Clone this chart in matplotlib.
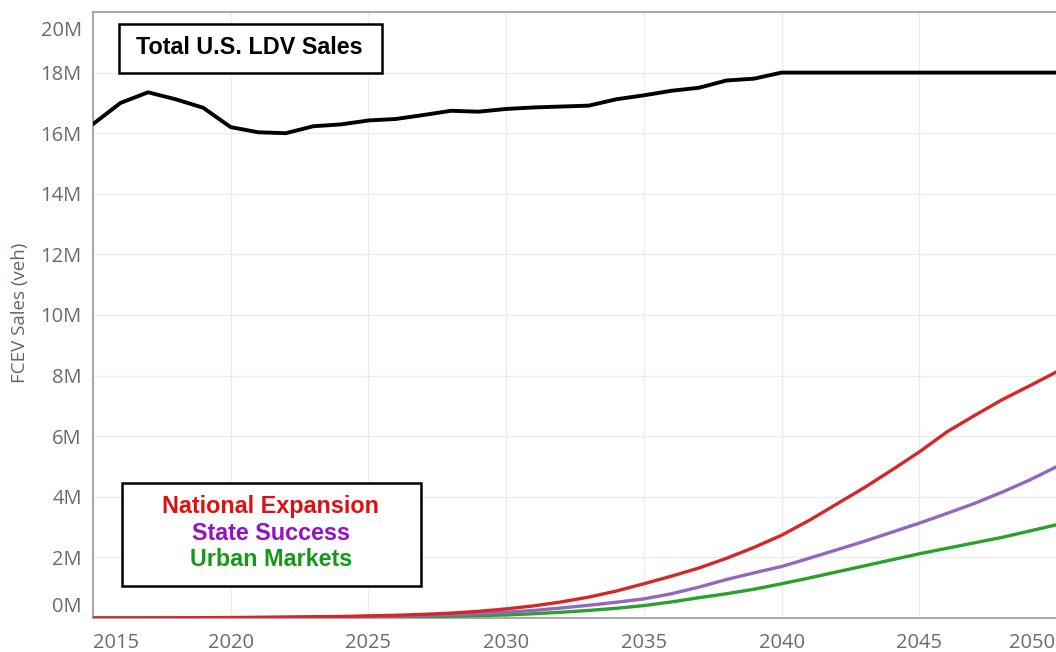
import matplotlib
matplotlib.use("Agg")
import matplotlib.pyplot as plt
from matplotlib.patches import Rectangle
from matplotlib.transforms import ScaledTranslation

years = list(range(2015, 2051))

total_ldv = [16.3, 17.0, 17.35, 17.12, 16.84, 16.2, 16.03, 16.0, 16.23, 16.29,
             16.42, 16.47, 16.6, 16.74, 16.71, 16.8, 16.85, 16.88, 16.91, 17.12,
             17.25, 17.4, 17.5, 17.74, 17.8, 18.0, 18.0, 18.0, 18.0, 18.0,
             18.0, 18.0, 18.0, 18.0, 18.0, 18.0]

national_expansion = [0.0, 0.0, 0.0, 0.005, 0.01, 0.015, 0.02, 0.03, 0.04, 0.05,
                      0.07, 0.09, 0.12, 0.16, 0.22, 0.30, 0.40, 0.53, 0.69, 0.89,
                      1.13, 1.38, 1.65, 1.97, 2.33, 2.73, 3.22, 3.76, 4.3, 4.88,
                      5.48, 6.14, 6.68, 7.2, 7.66, 8.13]

state_success = [0.0, 0.0, 0.0, 0.004, 0.008, 0.012, 0.016, 0.02, 0.03, 0.04,
                 0.05, 0.06, 0.08, 0.11, 0.15, 0.19, 0.25, 0.33, 0.42, 0.52,
                 0.63, 0.8, 1.02, 1.27, 1.49, 1.70, 1.97, 2.25, 2.53, 2.83,
                 3.13, 3.45, 3.78, 4.15, 4.55, 5.0]

urban_markets = [0.0, 0.0, 0.0, 0.003, 0.006, 0.009, 0.012, 0.015, 0.02, 0.025,
                 0.03, 0.04, 0.05, 0.06, 0.08, 0.10, 0.14, 0.19, 0.25, 0.32,
                 0.41, 0.53, 0.67, 0.8, 0.95, 1.13, 1.32, 1.52, 1.72, 1.92,
                 2.12, 2.3, 2.48, 2.66, 2.87, 3.08]

x_ticks = [2015, 2020, 2025, 2030, 2035, 2040, 2045, 2050]
y_ticks = [0, 2, 4, 6, 8, 10, 12, 14, 16, 18, 20]
y_tick_labels = ["0M", "2M", "4M", "6M", "8M", "10M", "12M", "14M", "16M", "18M", "20M"]

series_names = ["National Expansion", "State Success", "Urban Markets"]
line_colors = ["#d62728", "#9467bd", "#2ca02c"]
text_colors = ["#dd1111", "#9411c8", "#169a16"]

W, H = 1056, 652
fig = plt.figure(figsize=(W / 100, H / 100), dpi=100)
ax = fig.add_axes([93 / W, 1 - 618 / H, (1057 - 93) / W, (618 - 12) / H])

ax.plot(years, total_ldv, color="black", lw=2.8, solid_joinstyle="round",
        solid_capstyle="round", zorder=5)
for vals, c in zip([urban_markets, state_success, national_expansion], line_colors[::-1]):
    ax.plot(years, vals, color=c, lw=2.4, solid_joinstyle="round", zorder=4)

ax.set_xlim(2015, 2050)
ax.set_ylim(0, 20)
ax.set_xticks(x_ticks)
ax.set_xticklabels([str(t) for t in x_ticks])
ax.set_yticks(y_ticks)
ax.set_yticklabels(y_tick_labels)
ax.grid(True, color="#ececec", lw=1)
ax.set_axisbelow(True)

for s in ["left", "bottom", "top"]:
    ax.spines[s].set_color("#9a9a9a")
    ax.spines[s].set_linewidth(1.2)
ax.spines["right"].set_visible(False)

ax.tick_params(length=0, labelcolor="#6b6b6b", labelsize=14.5)
ax.tick_params(axis="y", pad=8)
ax.tick_params(axis="x", pad=11)
for lab in ax.get_xticklabels() + ax.get_yticklabels():
    lab.set_family("Open Sans")

xl = ax.get_xticklabels()
xl[0].set_transform(xl[0].get_transform() + ScaledTranslation(23 / 100, 0, fig.dpi_scale_trans))
xl[-1].set_transform(xl[-1].get_transform() + ScaledTranslation(-25 / 100, 0, fig.dpi_scale_trans))
yl = ax.get_yticklabels()
yl[0].set_transform(yl[0].get_transform() + ScaledTranslation(0, 13 / 100, fig.dpi_scale_trans))
yl[-1].set_transform(yl[-1].get_transform() + ScaledTranslation(0, -16 / 100, fig.dpi_scale_trans))

fig.text(20 / W, 1 - 313 / H, "FCEV Sales (veh)", rotation=90, ha="center", va="center",
         fontsize=13.5, color="#5a6670", family="Open Sans")

def fx(x):
    return x / W

def fy(y):
    return 1 - y / H

# Title box
fig.patches.append(Rectangle((fx(119), fy(73)), fx(382) - fx(119), fy(24) - fy(73),
                             transform=fig.transFigure, fill=True, facecolor="white",
                             edgecolor="black", lw=1.8, zorder=10))
fig.text(fx(249), fy(47), "Total U.S. LDV Sales", ha="center", va="center",
         fontsize=16.8, fontweight="bold", family="Liberation Sans", color="black", zorder=11)

# Legend box
fig.patches.append(Rectangle((fx(122), fy(586)), fx(421) - fx(122), fy(483) - fy(586),
                             transform=fig.transFigure, fill=True, facecolor="white",
                             edgecolor="black", lw=1.8, zorder=10))
for i, (name, c) in enumerate(zip(series_names, text_colors)):
    fig.text(fx(271), fy(506 + 27 * i), name, ha="center", va="center",
             fontsize=16.8, fontweight="bold", family="Liberation Sans", color=c, zorder=11)

fig.savefig("out.png", dpi=100)
